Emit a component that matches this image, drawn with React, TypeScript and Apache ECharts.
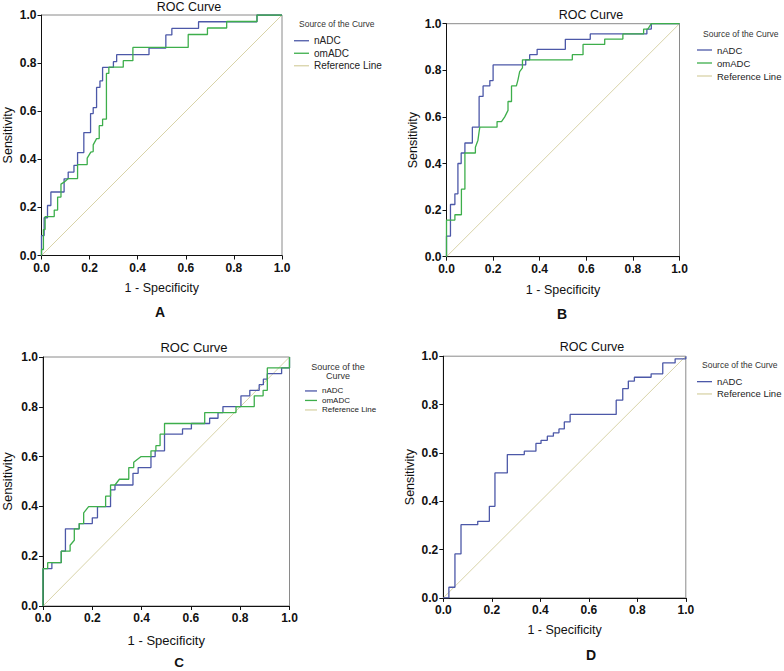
import React, { useEffect, useRef } from "react";
import * as echarts from "echarts";

const FONT = "'Liberation Sans', Arial, Helvetica, sans-serif";

const seriesNames = ["nADC", "omADC", "Reference Line"];
const panelLetters = ["A", "B", "C", "D"];
const referenceLine = [[0, 0], [1, 1]];

const rocA_nADC = [[0,0],[0,0.083],[0.011,0.083],[0.011,0.157],[0.025,0.157],[0.025,0.208],[0.039,0.208],[0.039,0.264],[0.094,0.264],[0.094,0.319],[0.111,0.319],[0.111,0.347],[0.135,0.347],[0.135,0.375],[0.15,0.375],[0.15,0.428],[0.176,0.428],[0.176,0.511],[0.204,0.511],[0.204,0.59],[0.215,0.59],[0.215,0.615],[0.229,0.615],[0.229,0.699],[0.243,0.699],[0.243,0.726],[0.254,0.726],[0.254,0.782],[0.299,0.782],[0.299,0.806],[0.3125,0.806],[0.3125,0.835],[0.447,0.835],[0.447,0.8625],[0.517,0.8625],[0.517,0.917],[0.542,0.917],[0.542,0.944],[0.653,0.944],[0.653,0.972],[0.896,0.972],[0.896,1],[1,1]];
const rocA_omADC = [[0,0],[0,0.025],[0.008,0.025],[0.008,0.108],[0.015,0.108],[0.015,0.162],[0.053,0.162],[0.053,0.189],[0.067,0.189],[0.067,0.243],[0.081,0.243],[0.081,0.297],[0.094,0.305],[0.111,0.32],[0.15,0.32],[0.15,0.378],[0.19,0.378],[0.19,0.405],[0.205,0.43],[0.215,0.432],[0.215,0.46],[0.229,0.486],[0.24,0.486],[0.24,0.54],[0.254,0.54],[0.254,0.567],[0.27,0.567],[0.27,0.757],[0.28,0.757],[0.28,0.783],[0.34,0.783],[0.34,0.81],[0.38,0.81],[0.38,0.865],[0.61,0.865],[0.61,0.919],[0.69,0.919],[0.69,0.946],[0.77,0.946],[0.77,0.973],[0.896,0.973],[0.896,1],[1,1]];

const rocB_nADC = [[0,0],[0,0.088],[0.017,0.088],[0.017,0.224],[0.036,0.224],[0.036,0.27],[0.049,0.27],[0.049,0.4],[0.063,0.4],[0.063,0.445],[0.079,0.445],[0.079,0.488],[0.111,0.488],[0.111,0.556],[0.14,0.556],[0.14,0.688],[0.157,0.688],[0.157,0.733],[0.186,0.733],[0.186,0.756],[0.2,0.756],[0.2,0.823],[0.34,0.823],[0.34,0.845],[0.357,0.845],[0.357,0.867],[0.389,0.867],[0.389,0.89],[0.51,0.89],[0.51,0.933],[0.617,0.933],[0.617,0.956],[0.86,0.956],[0.86,0.977],[0.879,0.977],[0.879,1],[1,1]];
const rocB_omADC = [[0,0],[0,0.157],[0.036,0.157],[0.036,0.18],[0.064,0.18],[0.064,0.29],[0.079,0.29],[0.079,0.445],[0.124,0.445],[0.124,0.47],[0.135,0.5],[0.14,0.537],[0.143,0.556],[0.217,0.556],[0.217,0.58],[0.236,0.58],[0.25,0.6],[0.264,0.628],[0.264,0.666],[0.279,0.666],[0.279,0.733],[0.3,0.733],[0.307,0.76],[0.314,0.794],[0.326,0.81],[0.326,0.845],[0.54,0.845],[0.54,0.867],[0.586,0.867],[0.586,0.911],[0.679,0.911],[0.679,0.934],[0.757,0.934],[0.757,0.956],[0.846,0.956],[0.846,0.977],[0.864,0.977],[0.879,1],[1,1]];

const rocC_nADC = [[0,0],[0,0.15],[0.036,0.15],[0.036,0.174],[0.074,0.174],[0.074,0.22],[0.091,0.22],[0.091,0.31],[0.147,0.31],[0.147,0.331],[0.2,0.331],[0.2,0.354],[0.221,0.354],[0.221,0.399],[0.274,0.399],[0.274,0.466],[0.292,0.466],[0.292,0.486],[0.365,0.486],[0.365,0.533],[0.386,0.533],[0.386,0.556],[0.438,0.556],[0.438,0.6],[0.455,0.6],[0.455,0.623],[0.493,0.623],[0.493,0.69],[0.566,0.69],[0.566,0.711],[0.602,0.711],[0.602,0.733],[0.676,0.733],[0.676,0.754],[0.71,0.754],[0.71,0.777],[0.73,0.777],[0.73,0.801],[0.803,0.801],[0.803,0.844],[0.839,0.844],[0.839,0.866],[0.877,0.866],[0.877,0.889],[0.894,0.889],[0.894,0.911],[0.91,0.911],[0.91,0.933],[0.968,0.933],[0.968,0.956],[1,0.956],[1,1]];
const rocC_omADC = [[0,0],[0,0.15],[0.019,0.15],[0.019,0.174],[0.074,0.174],[0.074,0.22],[0.11,0.22],[0.11,0.244],[0.127,0.264],[0.127,0.31],[0.147,0.31],[0.147,0.331],[0.165,0.331],[0.165,0.374],[0.185,0.399],[0.254,0.399],[0.254,0.441],[0.274,0.441],[0.274,0.486],[0.292,0.486],[0.31,0.509],[0.348,0.509],[0.348,0.556],[0.368,0.556],[0.368,0.577],[0.398,0.6],[0.438,0.6],[0.438,0.623],[0.458,0.623],[0.458,0.644],[0.475,0.644],[0.475,0.69],[0.493,0.69],[0.493,0.733],[0.656,0.733],[0.656,0.777],[0.783,0.777],[0.783,0.801],[0.857,0.801],[0.857,0.844],[0.893,0.844],[0.893,0.866],[0.91,0.866],[0.91,0.956],[1,0.956],[1,1]];

const rocD_nADC = [[0,0],[0.023,0],[0.023,0.044],[0.048,0.044],[0.048,0.182],[0.073,0.182],[0.073,0.303],[0.142,0.303],[0.142,0.317],[0.19,0.317],[0.19,0.379],[0.213,0.379],[0.213,0.517],[0.264,0.517],[0.264,0.593],[0.334,0.593],[0.334,0.607],[0.382,0.607],[0.382,0.639],[0.403,0.639],[0.403,0.652],[0.429,0.652],[0.429,0.669],[0.454,0.669],[0.454,0.683],[0.477,0.683],[0.477,0.699],[0.499,0.699],[0.499,0.728],[0.523,0.728],[0.523,0.759],[0.713,0.759],[0.713,0.818],[0.74,0.818],[0.74,0.866],[0.763,0.866],[0.763,0.897],[0.788,0.897],[0.788,0.913],[0.857,0.913],[0.857,0.927],[0.905,0.927],[0.905,0.972],[0.956,0.972],[0.956,0.989],[1,0.989],[1,1]];

const BLUE = "#4c58a8";
const GREEN = "#3dae4b";
const REF = "#d8d3a8";

export default function App() {
  const ref = useRef<HTMLDivElement>(null);

  useEffect(() => {
    if (!ref.current) return;
    const chart = echarts.init(ref.current, null, { renderer: "svg" });

    const grids = [
      { left: 41.5, top: 15, width: 240.5, height: 240.5 },
      { left: 446.5, top: 23.7, width: 233, height: 233 },
      { left: 40.5, top: 357, width: 249, height: 249 },
      { left: 443.3, top: 356.2, width: 242.5, height: 241.7 },
    ];
    const xNameGap = [26, 27, 27.5, 26];
    const yNameGap = [27, 27, 29, 27];
    const nameSize = [12.5, 12.5, 13, 12.5];

    const panels = [
      { n: rocA_nADC, o: rocA_omADC },
      { n: rocB_nADC, o: rocB_omADC },
      { n: rocC_nADC, o: rocC_omADC },
      { n: rocD_nADC, o: null },
    ];

    const axisCommon = {
      type: "value",
      min: 0,
      max: 1,
      interval: 0.2,
      splitLine: { show: false },
      axisLine: { show: true, lineStyle: { color: "#111", width: 1 } },
      axisTick: { show: true, inside: false, length: 4, lineStyle: { color: "#111" } },
      nameLocation: "middle",
    };

    const labelStyle = {
      fontFamily: FONT,
      fontSize: 12,
      fontWeight: "bold",
      color: "#111",
      formatter: (v: number) => v.toFixed(1),
    };

    const xAxis = grids.map((_, i) => ({
      ...axisCommon,
      gridIndex: i,
      name: "1 - Specificity",
      nameGap: xNameGap[i],
      nameTextStyle: { fontFamily: FONT, fontSize: nameSize[i], color: "#111" },
      axisLabel: { ...labelStyle, margin: 6 },
    }));
    const yAxis = grids.map((_, i) => ({
      ...axisCommon,
      gridIndex: i,
      name: "Sensitivity",
      nameGap: yNameGap[i],
      nameTextStyle: { fontFamily: FONT, fontSize: nameSize[i], color: "#111" },
      axisLabel: { ...labelStyle, margin: 5 },
    }));

    const series: any[] = [];
    panels.forEach((p, i) => {
      series.push({
        name: seriesNames[2],
        type: "line",
        xAxisIndex: i,
        yAxisIndex: i,
        data: referenceLine,
        symbol: "none",
        lineStyle: { color: REF, width: 1 },
        itemStyle: { color: REF },
        silent: true,
      });
      series.push({
        name: seriesNames[0],
        type: "line",
        xAxisIndex: i,
        yAxisIndex: i,
        data: p.n,
        symbol: "none",
        lineStyle: { color: BLUE, width: 1.3 },
        itemStyle: { color: BLUE },
      });
      if (p.o) {
        series.push({
          name: seriesNames[1],
          type: "line",
          xAxisIndex: i,
          yAxisIndex: i,
          data: p.o,
          symbol: "none",
          lineStyle: { color: GREEN, width: 1.3 },
          itemStyle: { color: GREEN },
        });
      }
    });

    const legendBase = {
      orient: "vertical",
      icon: "rect",
      itemHeight: 1.3,
      itemGap: 0,
      padding: 0,
      selectedMode: false,
    };
    const legend = [
      { ...legendBase, left: 294, top: 34.5, itemWidth: 15, data: seriesNames, textStyle: { fontFamily: FONT, fontSize: 10, lineHeight: 12.5, color: "#222" } },
      { ...legendBase, left: 697, top: 43.5, itemWidth: 15, data: seriesNames, textStyle: { fontFamily: FONT, fontSize: 9.5, lineHeight: 13, color: "#222" } },
      { ...legendBase, left: 305, top: 386.2, itemWidth: 12, data: seriesNames, textStyle: { fontFamily: FONT, fontSize: 8, lineHeight: 9.5, color: "#222" } },
      { ...legendBase, left: 697, top: 375.5, itemWidth: 15, data: [seriesNames[0], seriesNames[2]], textStyle: { fontFamily: FONT, fontSize: 9.5, lineHeight: 12.3, color: "#222" } },
    ];

    const txt = (x: number, y: number, text: string, size: number, align: string, weight = "normal", color = "#111", lh?: number) => ({
      type: "text",
      x,
      y,
      silent: true,
      style: {
        text,
        fill: color,
        fontFamily: FONT,
        fontSize: size,
        fontWeight: weight,
        align,
        verticalAlign: "middle",
        lineHeight: lh,
      },
    });

    const graphic = [
      txt(189, 6.5, "ROC Curve", 12.5, "center"),
      txt(591, 14.5, "ROC Curve", 12.5, "center"),
      txt(194, 347, "ROC Curve", 13, "center"),
      txt(592, 346.5, "ROC Curve", 12.5, "center"),
      txt(299, 24, "Source of the Curve", 8.5, "left", "normal", "#333"),
      txt(703, 33.5, "Source of the Curve", 8.5, "left", "normal", "#333"),
      txt(338, 371.2, "Source of the\nCurve", 9, "center", "normal", "#333", 9.2),
      txt(702, 365, "Source of the Curve", 8.5, "left", "normal", "#333"),
      txt(160, 311.5, panelLetters[0], 14, "center", "bold"),
      txt(562, 314, panelLetters[1], 14, "center", "bold"),
      txt(179, 662.5, panelLetters[2], 13.5, "center", "bold"),
      txt(591, 655, panelLetters[3], 14, "center", "bold"),
    ];

    chart.setOption({
      animation: false,
      backgroundColor: "#ffffff",
      grid: grids.map((g) => ({ ...g, show: true, borderColor: "#8a8a8a", borderWidth: 1, backgroundColor: "transparent", containLabel: false })),
      xAxis,
      yAxis,
      series,
      legend,
      graphic,
    });

    return () => chart.dispose();
  }, []);

  return (
    <div
      ref={ref}
      style={{ position: "absolute", left: 0, top: 0, width: 784, height: 671, background: "#fff" }}
    />
  );
}
